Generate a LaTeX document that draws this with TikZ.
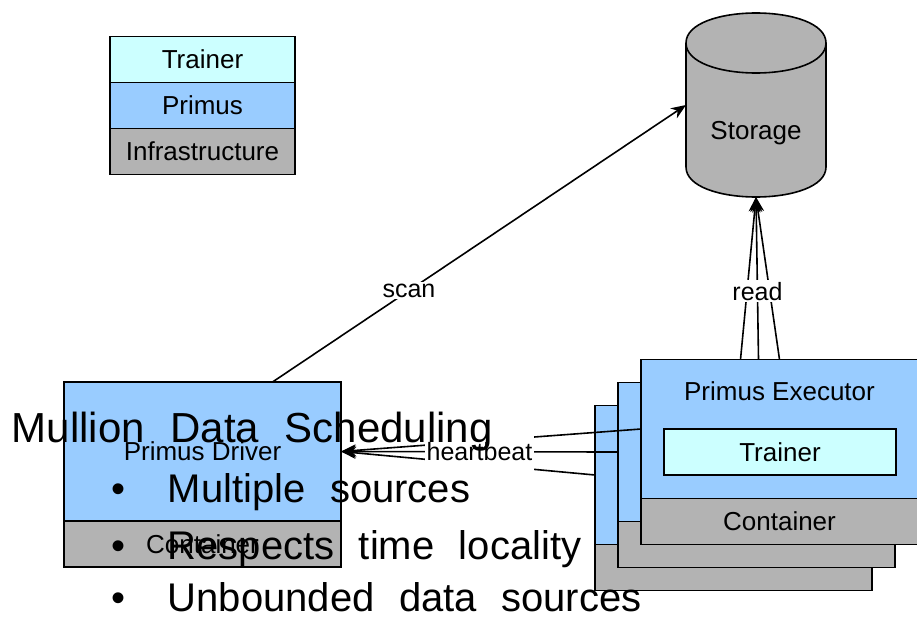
\documentclass[tikz,border=0pt]{standalone}
\usepackage{fontspec}
\setmainfont{Liberation Sans}
\newfontfamily\slidefont{Liberation Sans}[WordSpace=2.2]
\usetikzlibrary{positioning,arrows.meta}
\definecolor{trainercol}{HTML}{CCFFFF}
\definecolor{primuscol}{HTML}{99CCFF}
\definecolor{infracol}{HTML}{B3B3B3}

\begin{document}
\begin{tikzpicture}[x=1pt, y=-1pt, line width=1.6pt,
    box/.style = {draw, fill=primuscol, minimum width=277, minimum height=139, inner sep=0, outer sep=0, font=\fontsize{26}{30}\selectfont},
    cont/.style = {draw, fill=infracol, minimum width=277, minimum height=46, inner sep=0, outer sep=0, font=\fontsize{26}{30}\selectfont},
    row/.style = {draw, minimum width=185, minimum height=46, inner sep=0, outer sep=0, font=\fontsize{26}{30}\selectfont},
    lbl/.style = {fill=white, inner sep=2pt, font=\fontsize{25}{30}\selectfont},
    arr/.style = {-{Stealth[length=15pt, width=12pt]}},
    big/.style = {anchor=base west, inner sep=0, font=\slidefont\fontsize{40}{46}\selectfont}]
    \useasboundingbox (0,0) rectangle (917,618);

    % legend
    \node[row, fill=trainercol] (legT) at (202.5,59.5) {Trainer};
    \node[row, fill=primuscol, below=0pt of legT] (legP) {Primus};
    \node[row, fill=infracol, below=0pt of legP] (legI) {Infrastructure};

    % storage
    \filldraw[fill=infracol] (686,43) -- (686,167) .. controls (686,207) and (826,207) .. (826,167)
        -- (826,43) .. controls (826,3) and (686,3) .. (686,43) -- cycle;
    \draw (686,43) .. controls (686,83) and (826,83) .. (826,43);
    \node[minimum width=140, minimum height=184, inner sep=0, outer sep=0] (storage) at (756,105) {};
    \node[font=\fontsize{26}{30}\selectfont] (storage-l) at (756,133) {Storage};

    % driver
    \node[box] (driver) at (202.5,451.5) {Primus Driver};
    \node[cont, below=0pt of driver] (driver-c) {Container};

    % executors
    \foreach \n/\d in {execBB/46, execB/23}
    {
        \node[box] (\n) at (779.5-\d, 429+\d) {};
        \node[cont, below=0pt of \n] (\n-c) {};
    }
    \node[box] (exec) at (779.5,429) {};
    \node[cont, below=0pt of exec] (exec-c) {Container};
    \node[font=\fontsize{26}{30}\selectfont] (exec-l) at (779.5,391) {Primus Executor};
    \node[draw, fill=trainercol, minimum width=232, minimum height=46, inner sep=0, outer sep=0, font=\fontsize{26}{30}\selectfont] (exec-t) at (780,452) {Trainer};

    % heartbeat
    \draw[arr] (exec.west) -- (driver.east);
    \draw[arr] (execBB.west) -- (driver.east);
    \draw[arr] (execB.west) -- node[lbl, minimum height=44] {heartbeat} (driver.east);

    % read
    \draw[arr] ([xshift=-39pt]exec.north) -- (storage.south);
    \draw[arr] (exec.north) -- (storage.south);
    \draw[arr] ([xshift=-21pt]exec.north) -- node[lbl, pos=0.42] {read} (storage.south);

    % scan
    \draw[arr] ([xshift=70pt]driver.north) -- node[lbl, pos=0.33] {scan} (storage.west);

    % slide text
    \node[big, font=\slidefont\fontsize{42}{48}\selectfont] (title) at (11,442) {Mullion Data Scheduling};
    \foreach \y/\t [count=\k] in {502/Multiple sources, 559/Respects time locality, 611/Unbounded data sources}
    {
        \node[big, anchor=base] (dot\k) at (119,\y) {•};
        \node[big] (item\k) at (167,\y) {\t};
    }
\end{tikzpicture}
\end{document}
